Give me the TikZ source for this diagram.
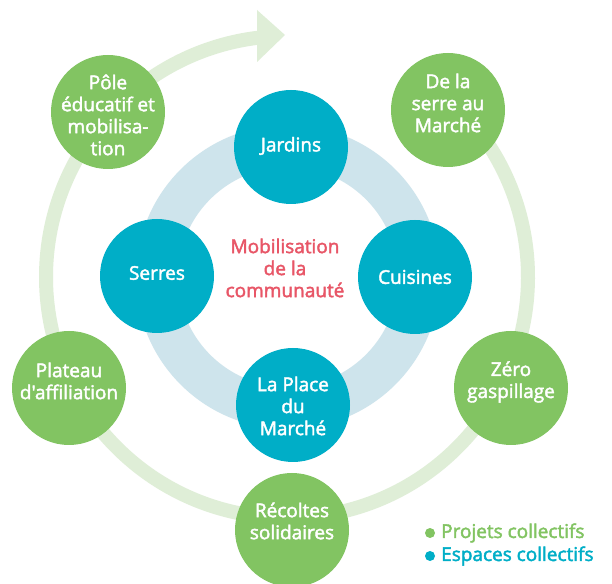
\documentclass[tikz,border=0pt]{standalone}
\usepackage{fontspec}
\setmainfont{Open Sans}[Ligatures=TeXOff, UprightFeatures={FakeBold=2.2}]
\definecolor{cgreen}{RGB}{130,196,98}
\definecolor{cblue}{RGB}{0,174,199}
\definecolor{ringblue}{RGB}{206,228,236}
\definecolor{trackgreen}{RGB}{223,238,215}
\definecolor{cred}{RGB}{232,86,103}
\newcommand\fsz{\fontsize{19pt}{22pt}\selectfont}
\tikzset{
  bubble/.style={circle, minimum size=114pt, inner sep=0pt},
  proj/.style={bubble, fill=cgreen},
  esp/.style={bubble, fill=cblue},
  btext/.style={text=white, font=\fsz, align=center, inner sep=0pt},
  track/.style={draw=trackgreen, line width=14pt},
  ringband/.style={draw=ringblue, line width=42pt},
  legdot/.style={circle, minimum size=10pt, inner sep=0pt},
  legtext/.style={anchor=west, font=\fsz, inner sep=0pt}
}
\begin{document}
\begin{tikzpicture}[x=1pt,y=1pt]
\useasboundingbox (0,0) rectangle (612,583);
\fill[white] (0,0) rectangle (612,583);
% outer track with arrow
\coordinate (tc) at (287,306);
\draw[track] (tc) ++(46:241) arc[start angle=46, end angle=-263, radius=241];
\fill[trackgreen] (257,573) -- (285,548) -- (257,521) -- cycle;
% inner ring
\coordinate (rc) at (288,306);
\draw[ringband] (rc) circle[radius=131];
% centre text
\node[text=cred, font=\fsz, align=center] (centre) at (285,315) {Mobilisation\\de la\\communauté};
% espaces collectifs
\node[esp] (jardins) at (291,436) {};
\node[esp] (serres) at (157,307) {};
\node[esp] (cuisines) at (415,306) {};
\node[esp] (place) at (293,178) {};
\node[btext] (jardins-t) at ([yshift=1pt]jardins.center) {Jardins};
\node[btext] (serres-t) at ([yshift=3pt]serres.center) {Serres};
\node[btext] (cuisines-t) at (cuisines.center) {Cuisines};
\node[btext] (place-t) at ([yshift=-1pt]place.center) {La Place\\du\\Marché};
% projets collectifs
\node[proj] (pole) at (108,471) {};
\node[proj] (serre) at (448,473) {};
\node[proj] (zero) at (511,195) {};
\node[proj] (plateau) at (69,195) {};
\node[proj] (recoltes) at (292,53) {};
\node[btext] (pole-t) at ([yshift=-3pt]pole.center) {Pôle\\éducatif et\\mobilisa-\\tion};
\node[btext] (serre-t) at ([yshift=7pt]serre.center) {De la\\serre au\\Marché};
\node[btext] (zero-t) at ([yshift=6pt]zero.center) {Zéro\\gaspillage};
\node[btext] (plateau-t) at ([yshift=7pt]plateau.center) {Plateau\\d'affiliation};
\node[btext] (recoltes-t) at ([yshift=9pt]recoltes.center) {Récoltes\\solidaires};
% legend
\node[legdot, fill=cgreen] (d1) at (430,50) {};
\node[legtext, text=cgreen] (l1) at (441,50) {Projets collectifs};
\node[legdot, fill=cblue] (d2) at (430,27) {};
\node[legtext, text=cblue] (l2) at (441,27) {Espaces collectifs};
\end{tikzpicture}
\end{document}
